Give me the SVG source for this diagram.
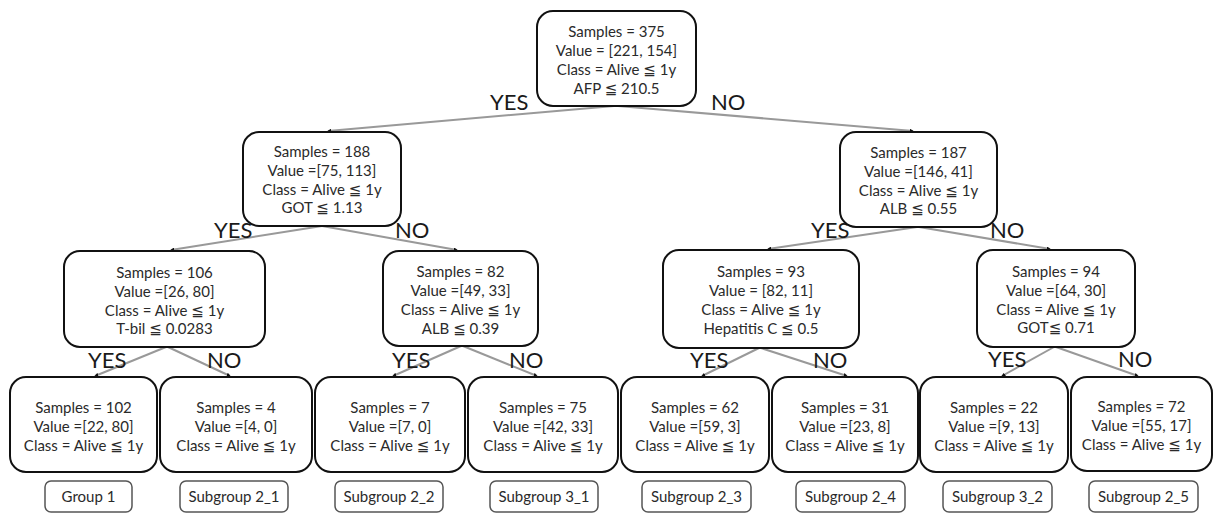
<svg xmlns="http://www.w3.org/2000/svg" width="1216" height="514" viewBox="0 0 1216 514">
<style>
.box{fill:#fff;stroke:#111;stroke-width:2}
.grp{fill:#fff;stroke:#555;stroke-width:1.5}
.t{font-family:Lato,"Liberation Sans","DejaVu Sans",sans-serif;font-size:15px;fill:#2a2a2a;text-anchor:middle}
.g{font-family:Lato,"Liberation Sans","DejaVu Sans",sans-serif;font-size:15px;fill:#2a2a2a;text-anchor:middle}
.lab{font-family:Lato,"Liberation Sans","DejaVu Sans",sans-serif;font-size:22px;fill:#1a1a1a}
.edge{stroke:#999;stroke-width:2;fill:none;marker-end:url(#ah)}
</style>
<defs>
<marker id="ah" viewBox="0 0 6 6" refX="5" refY="3" markerWidth="4" markerHeight="4" orient="auto" markerUnits="userSpaceOnUse"><path d="M0,0 L6,3 L0,6 Z" fill="#111"/></marker>
</defs>
<rect width="1216" height="514" fill="#fff"/>
<g id="connectors">
<line class="edge" x1="614" y1="106" x2="328" y2="131"/>
<line class="edge" x1="618" y1="106" x2="913" y2="131"/>
<line class="edge" x1="322" y1="226" x2="171" y2="250"/>
<line class="edge" x1="322" y1="226" x2="457" y2="250"/>
<line class="edge" x1="917" y1="227" x2="768" y2="249"/>
<line class="edge" x1="919" y1="227" x2="1050" y2="249"/>
<line class="edge" x1="166" y1="347" x2="95" y2="376"/>
<line class="edge" x1="168" y1="347" x2="230" y2="376"/>
<line class="edge" x1="461" y1="346" x2="393" y2="376"/>
<line class="edge" x1="463" y1="346" x2="537" y2="376"/>
<line class="edge" x1="759" y1="348" x2="702" y2="376"/>
<line class="edge" x1="761" y1="348" x2="847" y2="376"/>
<line class="edge" x1="1054" y1="347" x2="1002" y2="376"/>
<line class="edge" x1="1056" y1="347" x2="1138" y2="376"/>
</g>
<g id="labels">
<text class="lab" x="490" y="110">YES</text>
<text class="lab" x="711" y="110">NO</text>
<text class="lab" x="214" y="238">YES</text>
<text class="lab" x="395" y="238">NO</text>
<text class="lab" x="811" y="238">YES</text>
<text class="lab" x="990" y="238">NO</text>
<text class="lab" x="88" y="368">YES</text>
<text class="lab" x="207" y="368">NO</text>
<text class="lab" x="392" y="368">YES</text>
<text class="lab" x="509" y="368">NO</text>
<text class="lab" x="690" y="368">YES</text>
<text class="lab" x="813" y="368">NO</text>
<text class="lab" x="988" y="367">YES</text>
<text class="lab" x="1118" y="367">NO</text>
</g>
<g id="n375">
<rect class="box" x="537" y="11" width="159" height="95" rx="16"/>
<text class="t" x="616.5" y="37">Samples = 375</text>
<text class="t" x="616.5" y="56">Value = [221, 154]</text>
<text class="t" x="616.5" y="75">Class = Alive ≦ 1y</text>
<text class="t" x="616.5" y="94">AFP ≦ 210.5</text>
</g>
<g id="n188">
<rect class="box" x="243" y="132" width="158" height="94" rx="16"/>
<text class="t" x="322" y="157">Samples = 188</text>
<text class="t" x="322" y="176">Value =[75, 113]</text>
<text class="t" x="322" y="195">Class = Alive ≦ 1y</text>
<text class="t" x="322" y="213">GOT ≦ 1.13</text>
</g>
<g id="n187">
<rect class="box" x="840" y="132" width="157" height="95" rx="16"/>
<text class="t" x="918.5" y="158">Samples = 187</text>
<text class="t" x="918.5" y="177">Value =[146, 41]</text>
<text class="t" x="918.5" y="196">Class = Alive ≦ 1y</text>
<text class="t" x="918.5" y="214">ALB ≦ 0.55</text>
</g>
<g id="n106">
<rect class="box" x="64" y="251" width="201" height="96" rx="16"/>
<text class="t" x="164.5" y="278">Samples = 106</text>
<text class="t" x="164.5" y="297">Value =[26, 80]</text>
<text class="t" x="164.5" y="316">Class = Alive ≦ 1y</text>
<text class="t" x="164.5" y="334">T-bil ≦ 0.0283</text>
</g>
<g id="n82">
<rect class="box" x="383" y="251" width="155" height="95" rx="16"/>
<text class="t" x="460.5" y="277">Samples = 82</text>
<text class="t" x="460.5" y="296">Value =[49, 33]</text>
<text class="t" x="460.5" y="315">Class = Alive ≦ 1y</text>
<text class="t" x="460.5" y="334">ALB ≦ 0.39</text>
</g>
<g id="n93">
<rect class="box" x="663" y="250" width="196" height="98" rx="16"/>
<text class="t" x="761" y="277">Samples = 93</text>
<text class="t" x="761" y="296">Value = [82, 11]</text>
<text class="t" x="761" y="315">Class = Alive ≦ 1y</text>
<text class="t" x="761" y="334">Hepatitis C ≦ 0.5</text>
</g>
<g id="n94">
<rect class="box" x="977" y="250" width="158" height="97" rx="16"/>
<text class="t" x="1056" y="277">Samples = 94</text>
<text class="t" x="1056" y="296">Value =[64, 30]</text>
<text class="t" x="1056" y="315">Class = Alive ≦ 1y</text>
<text class="t" x="1056" y="333">GOT≦ 0.71</text>
</g>
<g id="leaf102">
<rect class="box" x="10" y="377" width="147" height="95" rx="16"/>
<text class="t" x="83.5" y="413">Samples = 102</text>
<text class="t" x="83.5" y="432">Value =[22, 80]</text>
<text class="t" x="83.5" y="451">Class = Alive ≦ 1y</text>
</g>
<g id="leaf4">
<rect class="box" x="160" y="377" width="152" height="95" rx="16"/>
<text class="t" x="236" y="413">Samples = 4</text>
<text class="t" x="236" y="432">Value =[4, 0]</text>
<text class="t" x="236" y="451">Class = Alive ≦ 1y</text>
</g>
<g id="leaf7">
<rect class="box" x="315" y="377" width="150" height="95" rx="16"/>
<text class="t" x="390" y="413">Samples = 7</text>
<text class="t" x="390" y="432">Value =[7, 0]</text>
<text class="t" x="390" y="451">Class = Alive ≦ 1y</text>
</g>
<g id="leaf75">
<rect class="box" x="468" y="377" width="150" height="95" rx="16"/>
<text class="t" x="543" y="413">Samples = 75</text>
<text class="t" x="543" y="432">Value =[42, 33]</text>
<text class="t" x="543" y="451">Class = Alive ≦ 1y</text>
</g>
<g id="leaf62">
<rect class="box" x="621" y="377" width="148" height="95" rx="16"/>
<text class="t" x="695" y="413">Samples = 62</text>
<text class="t" x="695" y="432">Value =[59, 3]</text>
<text class="t" x="695" y="451">Class = Alive ≦ 1y</text>
</g>
<g id="leaf31">
<rect class="box" x="772" y="377" width="146" height="95" rx="16"/>
<text class="t" x="845" y="413">Samples = 31</text>
<text class="t" x="845" y="432">Value =[23, 8]</text>
<text class="t" x="845" y="451">Class = Alive ≦ 1y</text>
</g>
<g id="leaf22">
<rect class="box" x="920" y="377" width="148" height="95" rx="16"/>
<text class="t" x="994" y="413">Samples = 22</text>
<text class="t" x="994" y="432">Value =[9, 13]</text>
<text class="t" x="994" y="451">Class = Alive ≦ 1y</text>
</g>
<g id="leaf72">
<rect class="box" x="1071" y="377" width="141" height="94" rx="16"/>
<text class="t" x="1141.5" y="412">Samples = 72</text>
<text class="t" x="1141.5" y="431">Value =[55, 17]</text>
<text class="t" x="1141.5" y="450">Class = Alive ≦ 1y</text>
</g>
<g id="group1"><rect class="grp" x="45" y="481" width="87" height="31" rx="6"/><text class="g" x="88.5" y="502">Group 1</text></g>
<g id="sg2_1"><rect class="grp" x="180" y="481" width="108" height="31" rx="6"/><text class="g" x="234" y="502">Subgroup 2_1</text></g>
<g id="sg2_2"><rect class="grp" x="335" y="481" width="108" height="31" rx="6"/><text class="g" x="389" y="502">Subgroup 2_2</text></g>
<g id="sg3_1"><rect class="grp" x="490" y="481" width="108" height="31" rx="6"/><text class="g" x="544" y="502">Subgroup 3_1</text></g>
<g id="sg2_3"><rect class="grp" x="642" y="481" width="109" height="31" rx="6"/><text class="g" x="696.5" y="502">Subgroup 2_3</text></g>
<g id="sg2_4"><rect class="grp" x="796" y="481" width="109" height="31" rx="6"/><text class="g" x="850.5" y="502">Subgroup 2_4</text></g>
<g id="sg3_2"><rect class="grp" x="943" y="481" width="109" height="31" rx="6"/><text class="g" x="997.5" y="502">Subgroup 3_2</text></g>
<g id="sg2_5"><rect class="grp" x="1089" y="481" width="109" height="31" rx="6"/><text class="g" x="1143.5" y="502">Subgroup 2_5</text></g>
</svg>
